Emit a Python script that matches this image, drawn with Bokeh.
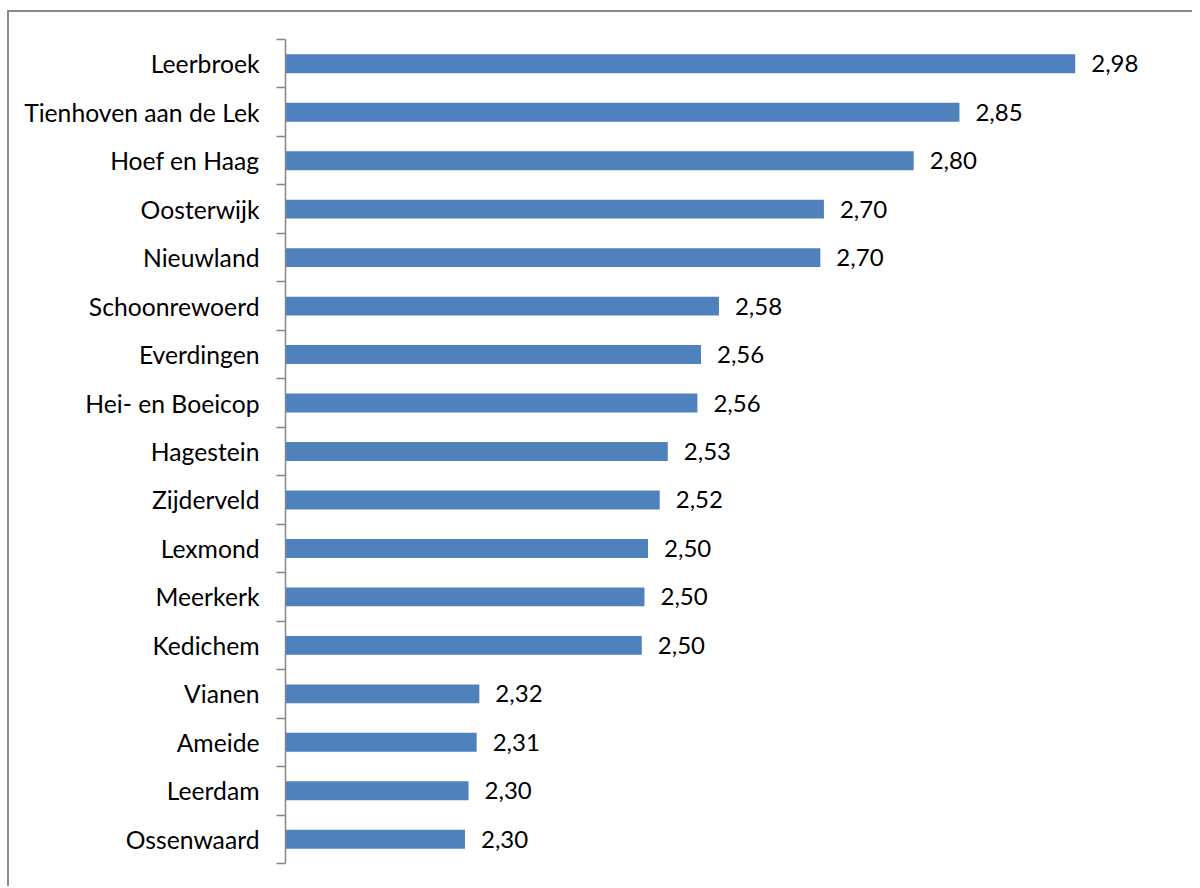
from bokeh.plotting import figure
from bokeh.models import Range1d, FixedTicker, ColumnDataSource
from bokeh.core.properties import value
from bokeh.embed import file_html
from bokeh.resources import INLINE

categories = ["Leerbroek", "Tienhoven aan de Lek", "Hoef en Haag", "Oosterwijk",
              "Nieuwland", "Schoonrewoerd", "Everdingen", "Hei- en Boeicop",
              "Hagestein", "Zijderveld", "Lexmond", "Meerkerk", "Kedichem",
              "Vianen", "Ameide", "Leerdam", "Ossenwaard"]
values = [2.980, 2.851, 2.800, 2.700, 2.696, 2.583, 2.563, 2.559, 2.526,
          2.517, 2.504, 2.500, 2.497, 2.316, 2.313, 2.304, 2.300]
axis_min = 2.1

FONT = "Lato"
n = len(categories)
pos = list(range(n))
labels = [f"{v:.2f}".replace(".", ",") for v in values]

src = ColumnDataSource(dict(y=pos, v=values, lab=labels, base=[axis_min] * n))

W, H = 1185, 876
ML, MT, MB = 276, 27, 25
p = figure(width=W, height=H, output_backend="svg", toolbar_location=None,
           x_range=Range1d(axis_min, axis_min + (W - ML) / 897.4),
           y_range=Range1d(n - 0.5, -0.5),
           min_border_left=ML, min_border_right=0, min_border_top=MT, min_border_bottom=MB)
p.styles = {"border-left": "2px solid #8a8a8a", "border-top": "2px solid #8a8a8a",
            "margin-left": "7px", "margin-top": "10px"}
p.outline_line_color = None
p.grid.visible = False
p.xaxis.visible = False

p.hbar(y="y", left="base", right="v", height=0.39, source=src,
       fill_color="#4F81BD", line_color=None)
p.text(x="v", y="y", text="lab", source=src, x_offset=16, y_offset=0,
       text_align="left", text_baseline="middle", text_font=value(FONT),
       text_font_size="24px", text_color="#000000")

ax = p.yaxis[0]
ax.ticker = FixedTicker(ticks=pos, minor_ticks=[i - 0.5 for i in range(n + 1)])
ax.major_label_overrides = {i: c for i, c in enumerate(categories)}
ax.major_tick_line_color = None
ax.major_tick_out = 8
ax.major_tick_in = 0
ax.minor_tick_out = 9
ax.minor_tick_in = 0
ax.minor_tick_line_color = "#868686"
ax.minor_tick_line_width = 1.5
ax.axis_line_color = "#868686"
ax.axis_line_width = 1.5
ax.major_label_standoff = 17
ax.major_label_text_font = FONT
ax.major_label_text_font_size = "24.7px"
ax.major_label_text_color = "#000000"

open("out.html", "w").write(file_html(p, INLINE))
